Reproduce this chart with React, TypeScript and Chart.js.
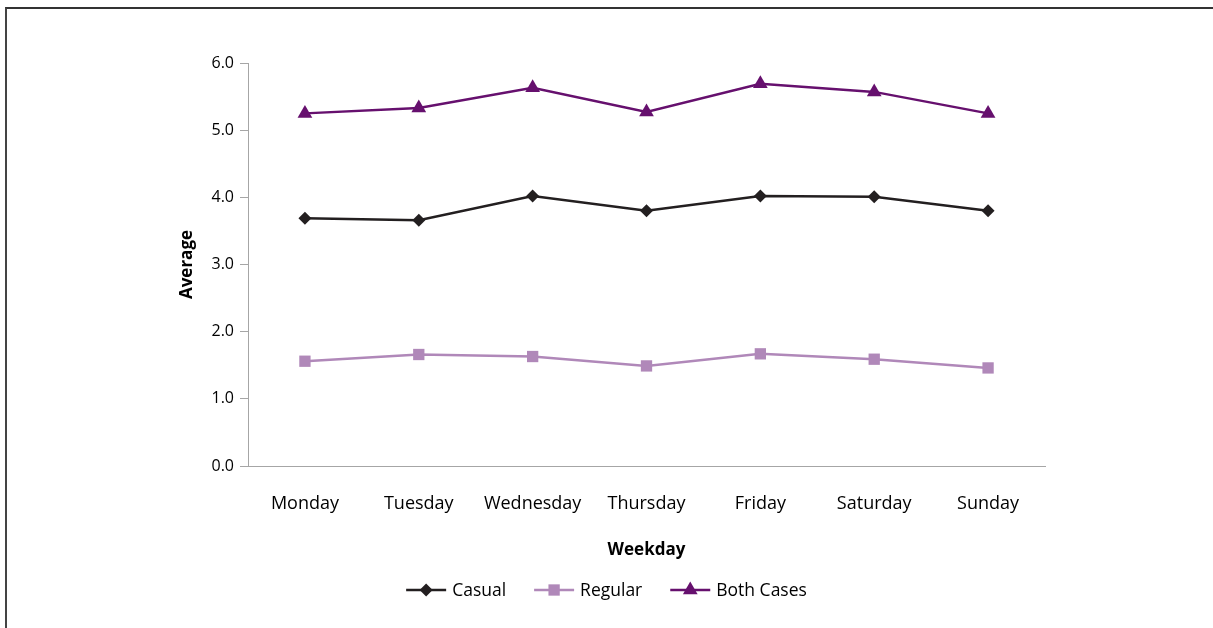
import React, { useEffect, useRef } from "react";
import { Chart, registerables } from "chart.js";

Chart.register(...registerables);

const categories = ["Monday", "Tuesday", "Wednesday", "Thursday", "Friday", "Saturday", "Sunday"];
const casual = [3.69, 3.66, 4.02, 3.8, 4.02, 4.01, 3.8];
const regular = [1.56, 1.66, 1.63, 1.49, 1.67, 1.59, 1.46];
const bothCases = [5.25, 5.33, 5.63, 5.27, 5.69, 5.57, 5.25];
const yTickValues = [0, 1, 2, 3, 4, 5, 6];

const seriesNames = ["Casual", "Regular", "Both Cases"];
const seriesColors = ["#231f20", "#b088b9", "#66106e"];
const seriesStyles = ["rectRot", "rect", "triangle"];
const seriesRadius = [6.5, 8, 8.5];

const FONT = "'Open Sans', Lato, sans-serif";

function drawMarker(ctx: CanvasRenderingContext2D, style: string, x: number, y: number, r: number) {
  ctx.beginPath();
  if (style === "rectRot") {
    ctx.moveTo(x, y - r);
    ctx.lineTo(x + r, y);
    ctx.lineTo(x, y + r);
    ctx.lineTo(x - r, y);
  } else if (style === "rect") {
    const s = r * Math.SQRT1_2;
    ctx.rect(x - s, y - s, 2 * s, 2 * s);
  } else {
    for (let k = 0; k < 3; k++) {
      const a = (k * 2 * Math.PI) / 3;
      const px = x + Math.sin(a) * r;
      const py = y - Math.cos(a) * r;
      if (k === 0) ctx.moveTo(px, py);
      else ctx.lineTo(px, py);
    }
  }
  ctx.closePath();
  ctx.fill();
}

const legendPlugin = {
  id: "customLegend",
  afterDraw(chart: any) {
    const ctx = chart.ctx;
    ctx.save();
    ctx.font = `17.5px ${FONT}`;
    const lineLen = 40;
    const gapText = 6;
    const gapItem = 28;
    const widths = seriesNames.map((n) => ctx.measureText(n).width);
    const total =
      widths.reduce((a: number, w: number) => a + lineLen + gapText + w, 0) + gapItem * (seriesNames.length - 1);
    let x = chart.width / 2 - total / 2;
    const y = 590;
    seriesNames.forEach((name, i) => {
      ctx.strokeStyle = seriesColors[i];
      ctx.lineWidth = 2.5;
      ctx.beginPath();
      ctx.moveTo(x, y);
      ctx.lineTo(x + lineLen, y);
      ctx.stroke();
      ctx.fillStyle = seriesColors[i];
      drawMarker(ctx, seriesStyles[i], x + lineLen / 2, y, seriesRadius[i]);
      ctx.fillStyle = "#000";
      ctx.textBaseline = "middle";
      ctx.textAlign = "left";
      ctx.fillText(name, x + lineLen + gapText, y + 1);
      x += lineLen + gapText + widths[i] + gapItem;
    });
    ctx.restore();
  },
};

export default function App() {
  const ref = useRef<HTMLCanvasElement | null>(null);

  useEffect(() => {
    if (!ref.current) return;
    const data = [casual, regular, bothCases];
    const chart = new Chart(ref.current, {
      type: "line",
      data: {
        labels: categories,
        datasets: seriesNames.map((name, i) => ({
          label: name,
          data: data[i],
          borderColor: seriesColors[i],
          backgroundColor: seriesColors[i],
          borderWidth: 2.5,
          pointStyle: seriesStyles[i] as any,
          pointRadius: seriesRadius[i],
          pointBorderWidth: 0,
          pointBackgroundColor: seriesColors[i],
          tension: 0,
        })),
      },
      options: {
        animation: false,
        responsive: false,
        devicePixelRatio: 1,
        layout: { padding: { left: 170, right: 168, top: 63, bottom: 62 } },
        plugins: {
          legend: { display: false },
          tooltip: { enabled: false },
        },
        scales: {
          x: {
            offset: true,
            grid: { display: false },
            border: { display: true, color: "#a6a6a6", width: 1 },
            ticks: {
              color: "#000",
              font: { family: FONT, size: 18 },
              padding: 19,
              maxRotation: 0,
            },
            title: {
              display: true,
              text: "Weekday",
              color: "#000",
              font: { family: FONT, size: 17, weight: "bold" },
              padding: { top: 0, bottom: 6 },
            },
            afterFit: (scale: any) => {
              scale.height = 100;
            },
          },
          y: {
            min: 0,
            max: 6,
            afterBuildTicks: (scale: any) => {
              scale.ticks = yTickValues.map((v) => ({ value: v }));
            },
            grid: {
              drawOnChartArea: false,
              drawTicks: true,
              tickLength: 8,
              color: "#a6a6a6",
            },
            border: { display: true, color: "#a6a6a6", width: 1 },
            ticks: {
              color: "#000",
              font: { family: FONT, size: 16 },
              padding: 6,
              callback: (v: any) => Number(v).toFixed(1),
            },
            title: {
              display: true,
              text: "Average",
              color: "#000",
              font: { family: FONT, size: 17, weight: "bold" },
              padding: { top: 7, bottom: 0 },
            },
            afterFit: (scale: any) => {
              scale.width = 78;
            },
          },
        },
      },
      plugins: [legendPlugin],
    });
    return () => chart.destroy();
  }, []);

  return (
    <div
      style={{
        position: "fixed",
        left: 0,
        top: 0,
        width: 1213,
        height: 628,
        overflow: "hidden",
        background: "#fff",
      }}
    >
      <div
        style={{
          position: "absolute",
          left: 5,
          top: 7,
          width: 1300,
          height: 700,
          borderTop: "2px solid #333",
          borderLeft: "2px solid #444",
        }}
      />
      <canvas
        ref={ref}
        width={1213}
        height={628}
        style={{ position: "absolute", left: 0, top: 0, width: 1213, height: 628 }}
      />
    </div>
  );
}
